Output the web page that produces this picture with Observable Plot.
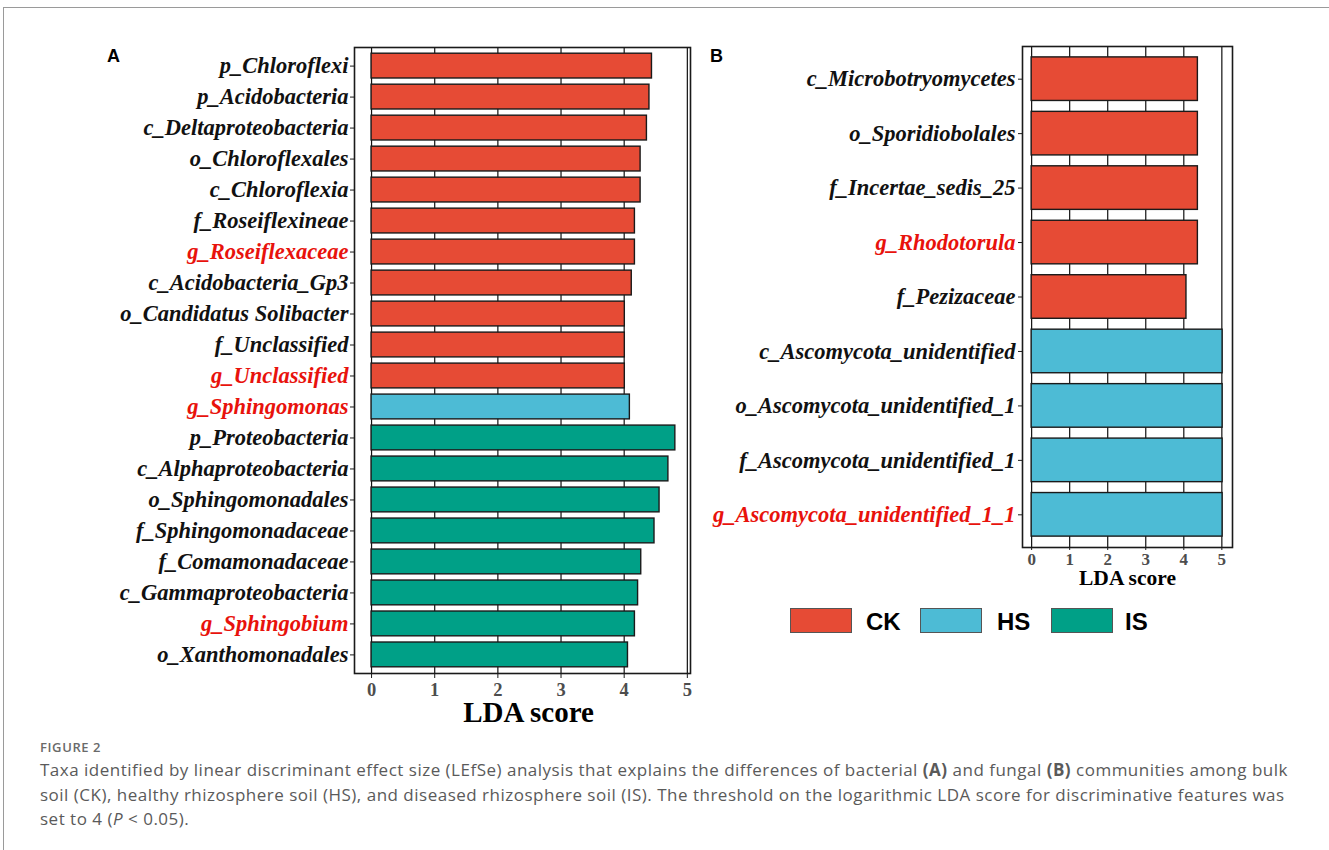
<!DOCTYPE html>
<html>
<head>
<meta charset="utf-8">
<script src="https://cdn.jsdelivr.net/npm/d3@7"></script>
<script src="https://cdn.jsdelivr.net/npm/@observablehq/plot@0.6"></script>
<style>
  html, body { margin: 0; padding: 0; background: #fff; }
  #fig { position: relative; width: 1329px; height: 850px; overflow: hidden; background: #fff; }
  #border { position: absolute; left: 3px; top: 7px; right: -2px; bottom: -2px; border-top: 1.5px solid #9a9a9a; border-left: 1.5px solid #9a9a9a; }
  .panel { position: absolute; left: 0; top: 0; }
  .plab { position: absolute; font-family: "Liberation Sans", Arial, sans-serif; font-weight: bold; font-size: 18px; color: #000; }
  #legend { position: absolute; left: 0; top: 0; font-family: "Liberation Sans", Arial, sans-serif; font-weight: bold; font-size: 24px; }
  .lbox { position: absolute; width: 60px; height: 23px; border: 1px solid #555; }
  .ltxt { position: absolute; line-height: 26px; }
  #cap { position: absolute; left: 40px; top: 736px; font-family: "Open Sans", "Noto Sans", sans-serif; color: #5a5a5a; white-space: nowrap; }
  #cap .fig { font-size: 13px; font-weight: 600; color: #6a6a6a; line-height: 22px; letter-spacing: 0.6px; }
  #cap .txt { font-size: 17px; line-height: 24.5px; letter-spacing: 0.5px; }
</style>
</head>
<body>
<div id="fig">
  <div id="border"></div>
  <div class="plab" style="left:107px; top:46px;">A</div>
  <div class="plab" style="left:710px; top:46px;">B</div>
  <div id="legend"></div>
  <div id="cap">
    <div class="fig">FIGURE 2</div>
    <div class="txt">Taxa identified by linear discriminant effect size (LEfSe) analysis that explains the differences of bacterial <b>(A)</b> and fungal <b>(B)</b> communities among bulk<br>soil (CK), healthy rhizosphere soil (HS), and diseased rhizosphere soil (IS). The threshold on the logarithmic LDA score for discriminative features was<br>set to 4 (<i>P</i> &lt; 0.05).</div>
  </div>
</div>
<script>
// ---------- data ----------
const groups = ["CK", "HS", "IS"];
const groupColors = ["#E64B35", "#4DBBD5", "#00A087"];

const taxaA = [
  "p_Chloroflexi", "p_Acidobacteria", "c_Deltaproteobacteria", "o_Chloroflexales",
  "c_Chloroflexia", "f_Roseiflexineae", "g_Roseiflexaceae", "c_Acidobacteria_Gp3",
  "o_Candidatus Solibacter", "f_Unclassified", "g_Unclassified", "g_Sphingomonas",
  "p_Proteobacteria", "c_Alphaproteobacteria", "o_Sphingomonadales", "f_Sphingomonadaceae",
  "f_Comamonadaceae", "c_Gammaproteobacteria", "g_Sphingobium", "o_Xanthomonadales"
];
const ldaA = [4.44, 4.40, 4.36, 4.26, 4.26, 4.17, 4.17, 4.12, 4.01, 4.01, 4.01, 4.09,
              4.81, 4.70, 4.56, 4.48, 4.27, 4.22, 4.17, 4.06];
const groupA = ["CK","CK","CK","CK","CK","CK","CK","CK","CK","CK","CK","HS",
                "IS","IS","IS","IS","IS","IS","IS","IS"];

const taxaB = [
  "c_Microbotryomycetes", "o_Sporidiobolales", "f_Incertae_sedis_25", "g_Rhodotorula",
  "f_Pezizaceae", "c_Ascomycota_unidentified", "o_Ascomycota_unidentified_1",
  "f_Ascomycota_unidentified_1", "g_Ascomycota_unidentified_1_1"
];
const ldaB = [4.37, 4.37, 4.37, 4.37, 4.07, 5.02, 5.02, 5.02, 5.02];
const groupB = ["CK","CK","CK","CK","CK","HS","HS","HS","HS"];

const xTicks = [0, 1, 2, 3, 4, 5];
const axisTitle = "LDA score";

// ---------- helpers ----------
const colorOf = g => groupColors[groups.indexOf(g)];
const isGenus = t => t.startsWith("g_");
const serif = "'Liberation Serif', 'Times New Roman', serif";

function panel({taxa, lda, grp, width, height, mt, mb, ml, mr, xdom, tickFont, titleFont, tickSize, tickPad, labelFont, labelDx, titleDy, titleDx}) {
  const rows = taxa.map((t, i) => ({taxon: t, lda: lda[i], group: grp[i], color: colorOf(grp[i])}));
  return Plot.plot({
    width, height,
    marginTop: mt, marginBottom: mb, marginLeft: ml, marginRight: mr,
    style: {fontFamily: serif, background: "transparent", overflow: "visible"},
    x: {domain: xdom, ticks: xTicks},
    y: {domain: taxa, padding: 0.2, round: false},
    color: {type: "identity"},
    marks: [
      Plot.gridX(xTicks, {stroke: "#111", strokeOpacity: 1, strokeWidth: 1.2}),
      Plot.barX(rows, {y: "taxon", x1: 0, x2: "lda", fill: "color", stroke: "#1a1a1a", strokeWidth: 1.4}),
      Plot.frame({stroke: "#1a1a1a", strokeWidth: 1.6}),
      Plot.axisY({tickSize: 4, tickFormat: () => "", stroke: "#1a1a1a", label: null}),
      Plot.axisX(xTicks, {tickSize, tickPadding: tickPad, stroke: "#1a1a1a", fill: "#4d4d4d",
        fontSize: tickFont, fontWeight: "bold", label: null}),
      Plot.text(rows.filter(d => !isGenus(d.taxon)), {y: "taxon", text: "taxon", frameAnchor: "left",
        textAnchor: "end", dx: labelDx, fill: "#111", fontSize: labelFont, fontWeight: "bold", fontStyle: "italic"}),
      Plot.text(rows.filter(d => isGenus(d.taxon)), {y: "taxon", text: "taxon", frameAnchor: "left",
        textAnchor: "end", dx: labelDx, fill: "#e8120c", fontSize: labelFont, fontWeight: "bold", fontStyle: "italic"}),
      Plot.text([axisTitle], {frameAnchor: "bottom", dy: titleDy, dx: titleDx, text: d => d,
        fontSize: titleFont, fontWeight: "bold", fill: "#000"})
    ]
  });
}

const fig = document.getElementById("fig");

const plotA = panel({
  taxa: taxaA, lda: ldaA, grp: groupA,
  width: 700, height: 730, mt: 47, mb: 57, ml: 354, mr: 10,
  xdom: [-0.27, 5.05], tickFont: 18.5, titleFont: 29, tickSize: 5, tickPad: 4,
  labelFont: 22.5, labelDx: -6, titleDy: 48, titleDx: 6
});
plotA.classList.add("panel");
fig.appendChild(plotA);

const plotB = panel({
  taxa: taxaB, lda: ldaB, grp: groupB,
  width: 629, height: 600, mt: 46, mb: 53, ml: 322, mr: 97,
  xdom: [-0.24, 5.28], tickFont: 17, titleFont: 21.5, tickSize: 3, tickPad: 2,
  labelFont: 22.5, labelDx: -7, titleDy: 37, titleDx: 0
});
plotB.classList.add("panel");
plotB.style.left = "700px";
fig.appendChild(plotB);

// ---------- legend ----------
const legend = document.getElementById("legend");
const legX = [790, 920, 1051];
const legTxtX = [866, 997, 1125];
groups.forEach((g, i) => {
  const b = document.createElement("div");
  b.className = "lbox";
  b.style.left = legX[i] + "px"; b.style.top = "608px"; b.style.background = groupColors[i];
  legend.appendChild(b);
  const t = document.createElement("div");
  t.className = "ltxt";
  t.style.left = legTxtX[i] + "px"; t.style.top = "609px";
  t.textContent = g;
  legend.appendChild(t);
});
</script>
</body>
</html>
